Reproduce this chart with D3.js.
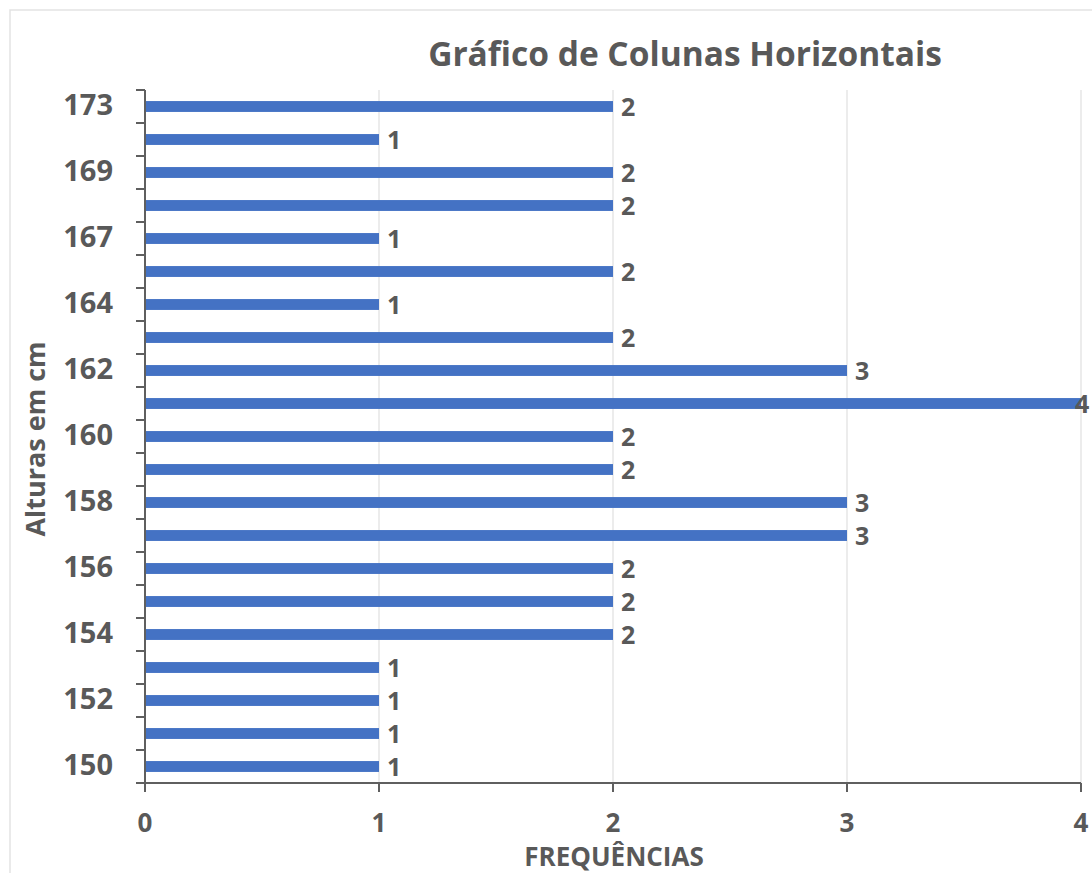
<!DOCTYPE html>
<html>
<head>
<meta charset="utf-8">
<script src="https://cdn.jsdelivr.net/npm/d3@7"></script>
<style>
  html, body { margin: 0; padding: 0; background: #fff; }
  svg { display: block; }
  text { font-family: "Open Sans", "Noto Sans", sans-serif; font-weight: bold; fill: #595959; }
</style>
</head>
<body>
<svg id="chart" width="1092" height="873"></svg>
<script>
// Data (bottom to top)
const categories = ["150","151","152","153","154","155","156","157","158","159","160","161","162","163","164","165","167","168","169","171","173"];
const frequencies = [1,1,1,1,2,2,2,3,3,2,2,4,3,2,1,2,1,2,2,1,2];
const shownLabels = ["150","152","154","156","158","160","162","164","167","169","173"];
const xTicks = [0,1,2,3,4];
const title = "Gráfico de Colunas Horizontais";
const yTitle = "Alturas em cm";
const xTitle = "FREQUÊNCIAS";

const W = 1092, H = 873;
const plot = { left: 145, right: 1081, top: 90, bottom: 783 };

const svg = d3.select("#chart");

// chart area border
svg.append("rect").attr("x", 10).attr("y", 10).attr("width", 1100).attr("height", 900)
  .attr("fill", "#fff").attr("stroke", "#e3e3e3").attr("stroke-width", 1.5);

const x = d3.scaleLinear().domain([0, 4]).range([plot.left, plot.right]);
const y = d3.scaleBand().domain(categories.slice().reverse()).range([plot.top, plot.bottom]).paddingInner(0.67).paddingOuter(0.335);
const yEdges = d3.scaleLinear().domain([0, categories.length]).range([plot.bottom, plot.top]);

// gridlines
svg.append("g").selectAll("line").data(xTicks.filter(d => d > 0)).join("line")
  .attr("x1", d => x(d)).attr("x2", d => x(d))
  .attr("y1", plot.top).attr("y2", plot.bottom)
  .attr("stroke", "#e6e6e6").attr("stroke-width", 1.5);

// bars
const data = categories.map((c, i) => ({ c, v: frequencies[i] }));
svg.append("g").selectAll("rect").data(data).join("rect")
  .attr("x", x(0))
  .attr("y", d => y(d.c))
  .attr("width", d => x(d.v) - x(0))
  .attr("height", y.bandwidth())
  .attr("fill", "#4472c4");

// data labels
svg.append("g").selectAll("text").data(data).join("text")
  .attr("x", d => Math.min(x(d.v) + 8, W - 17))
  .attr("y", d => y(d.c) + y.bandwidth() / 2 + 3)
  .attr("dominant-baseline", "middle")
  .attr("font-size", 25)
  .text(d => d.v);

// y axis line and ticks (at category boundaries)
const axisColor = "#5f5f5f";
svg.append("line").attr("x1", plot.left).attr("x2", plot.left)
  .attr("y1", plot.top).attr("y2", plot.bottom)
  .attr("stroke", axisColor).attr("stroke-width", 2);
svg.append("g").selectAll("line").data(d3.range(categories.length + 1)).join("line")
  .attr("x1", plot.left - 9).attr("x2", plot.left)
  .attr("y1", d => yEdges(d)).attr("y2", d => yEdges(d))
  .attr("stroke", axisColor).attr("stroke-width", 2);

// y tick labels
svg.append("g").selectAll("text").data(shownLabels).join("text")
  .attr("x", plot.left - 32)
  .attr("y", d => y(d) + y.bandwidth() / 2 + 1)
  .attr("text-anchor", "end")
  .attr("dominant-baseline", "middle")
  .attr("font-size", 29)
  .text(d => d);

// x axis
svg.append("line").attr("x1", plot.left - 9).attr("x2", plot.right)
  .attr("y1", plot.bottom).attr("y2", plot.bottom)
  .attr("stroke", axisColor).attr("stroke-width", 2);
svg.append("g").selectAll("line").data(xTicks).join("line")
  .attr("x1", d => x(d)).attr("x2", d => x(d))
  .attr("y1", plot.bottom).attr("y2", plot.bottom + 9)
  .attr("stroke", axisColor).attr("stroke-width", 2);
svg.append("g").selectAll("text").data(xTicks).join("text")
  .attr("x", d => x(d))
  .attr("y", 825)
  .attr("text-anchor", "middle")
  .attr("dominant-baseline", "middle")
  .attr("font-size", 26)
  .text(d => d);

// titles
svg.append("text").attr("x", 685).attr("y", 57)
  .attr("text-anchor", "middle").attr("dominant-baseline", "middle")
  .attr("font-size", 33.5).text(title);

svg.append("text").attr("transform", "translate(38,439) rotate(-90)")
  .attr("text-anchor", "middle").attr("dominant-baseline", "middle")
  .attr("font-size", 27).text(yTitle);

svg.append("text").attr("x", 614).attr("y", 859)
  .attr("text-anchor", "middle").attr("dominant-baseline", "middle")
  .attr("font-size", 26).text(xTitle);
</script>
</body>
</html>
